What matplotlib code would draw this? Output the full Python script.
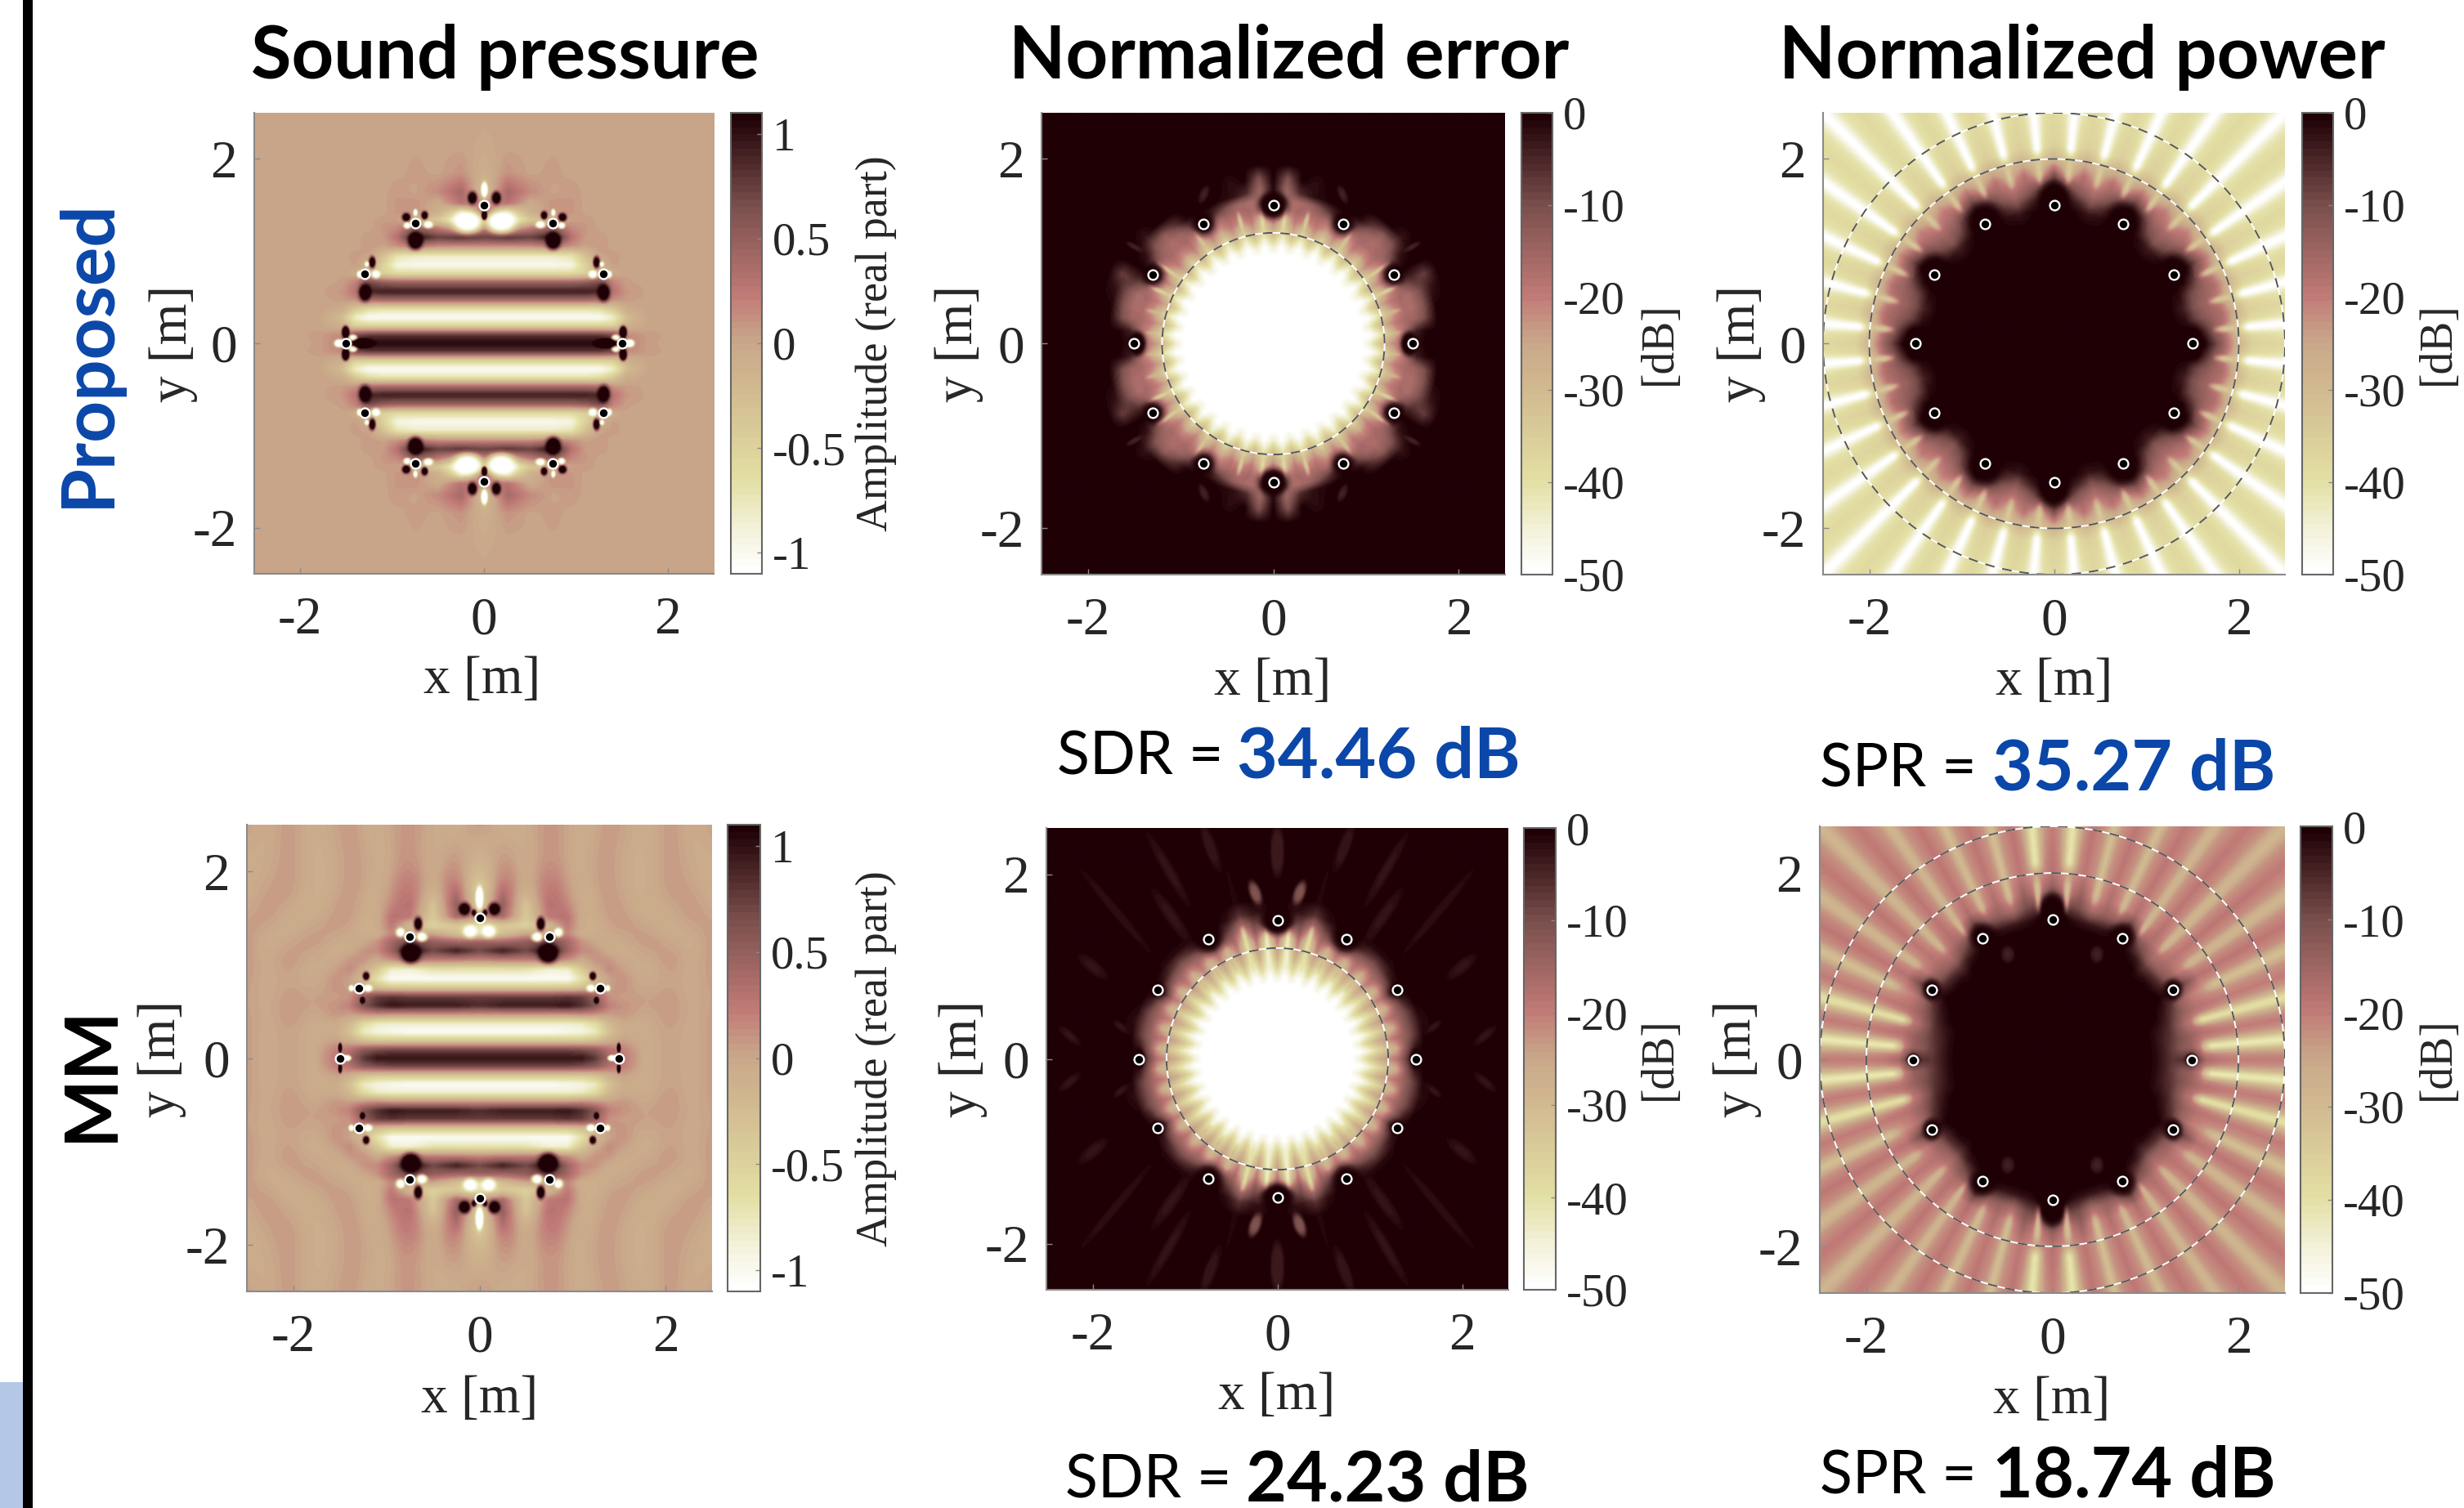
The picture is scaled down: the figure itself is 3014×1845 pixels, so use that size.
import numpy as np
import matplotlib
matplotlib.use("Agg")
import matplotlib.pyplot as plt
from matplotlib.colors import LinearSegmentedColormap, Normalize
from matplotlib.patches import Circle, Rectangle

W, H = 3014, 1845

# ---------- data ----------
titles = ["Sound pressure", "Normalized error", "Normalized power"]
row_names = ["Proposed", "MM"]
sdr_values = ["34.46 dB", "24.23 dB"]
spr_values = ["35.27 dB", "18.74 dB"]
speaker_angles = [0, 30, 60, 90, 120, 150, 180, 210, 240, 270, 300, 330]
speaker_radius = 1.5
amp_ticks = [-1, -0.5, 0, 0.5, 1]
db_ticks = [-50, -40, -30, -20, -10, 0]
pos_ticks = [-2, 0, 2]

# Pressure panels: upper right quadrant, rows = y, columns = x (mirrored)
p_y = [0, .09, .19, .28, .37, .47, .56, .66, .76, .85, .95, 1.05, 1.15, 1.25, 1.34, 1.42, 1.52, 1.65, 1.85, 2.1, 2.5]
p_x = [0, .25, .5, .75, .95, 1.1, 1.25, 1.4, 1.55, 1.8, 2.05, 2.3, 2.5]
sound_proposed = [
 [1.05,1.05,1.05,1.05,1.05,1.05,1.05,1.0,.2,.04,.02,.02,.02],
 [.8,.8,.8,.8,.8,.8,.8,.7,.15,.05,.02,.02,.02],
 [-.5,-.5,-.5,-.5,-.5,-.5,-.5,-.5,-.1,.02,.02,.02,.02],
 [-1.05,-1.05,-1.05,-1.05,-1.05,-1.05,-1.05,-.85,-.25,.03,.02,.02,.02],
 [-.7,-.7,-.7,-.7,-.7,-.7,-.65,-.4,-.05,.03,.02,.02,.02],
 [.4,.4,.4,.4,.4,.4,.35,.12,.05,.02,.02,.02,.02],
 [.95,.95,.95,.95,.95,.95,.9,.3,.08,.02,.02,.02,.02],
 [.5,.5,.5,.5,.5,.55,.7,.2,.04,.02,.02,.02,.02],
 [-.6,-.6,-.6,-.6,-.6,-.5,-.2,-.05,.03,.02,.02,.02,.02],
 [-1.0,-1.0,-1.0,-1.0,-.95,-.5,-.1,.04,.02,.02,.02,.02,.02],
 [-.8,-.8,-.8,-.8,-.7,-.3,.02,.05,.02,.02,.02,.02,.02],
 [.1,.1,.1,.2,.1,.02,.06,.02,.02,.02,.02,.02,.02],
 [.75,.85,.75,1.05,.3,.06,.06,.02,.02,.02,.02,.02,.02],
 [.25,-.15,.25,.5,.15,.08,.02,.02,.02,.02,.02,.02,.02],
 [-.1,-1.05,-.4,-.2,.04,.06,.02,.02,.02,.02,.02,.02,.02],
 [.5,-.7,-.1,.1,.08,.02,.02,.02,.02,.02,.02,.02,.02],
 [.1,.3,-.05,.1,.08,.02,.02,.02,.02,.02,.02,.02,.02],
 [-.3,.4,.15,.02,.06,.02,.02,.02,.02,.02,.02,.02,.02],
 [-.1,.1,.02,.05,.02,.02,.02,.02,.02,.02,.02,.02,.02],
 [-.03,.03,.02,.03,.02,.02,.02,.02,.02,.02,.02,.02,.02],
 [.02,.02,.02,.02,.02,.02,.02,.02,.02,.02,.02,.02,.02],
]
sound_mm = [
 [1.0,1.0,1.0,1.0,1.0,1.0,.8,.4,.25,-.08,.05,-.06,.08],
 [.7,.7,.7,.7,.7,.65,.55,.3,.2,-.08,.05,-.06,.08],
 [-.4,-.4,-.4,-.4,-.4,-.4,-.3,-.1,.03,-.08,.05,-.06,.08],
 [-1.05,-1.05,-1.05,-1.05,-1.0,-.95,-.8,-.3,-.05,-.08,.06,-.06,.08],
 [-.85,-.85,-.85,-.85,-.85,-.8,-.6,-.2,-.03,-.06,.08,-.05,.08],
 [.1,.1,.1,.1,.1,.15,.1,.05,.08,-.02,.1,-.05,.07],
 [.85,.95,.95,.95,1.0,.85,.6,.2,.1,.02,.1,-.04,.05],
 [.75,.75,.75,.75,.8,.75,.5,.1,.05,.05,.08,-.04,.05],
 [-.4,-.4,-.4,-.4,-.4,-.3,-.1,.05,.1,-.05,.05,-.05,.06],
 [-1.05,-1.05,-1.05,-1.05,-1.05,-.7,-.2,.02,.12,-.08,.05,-.06,.08],
 [-.7,-.7,-.7,-.9,-.85,-.4,-.05,.15,.05,-.1,.08,-.06,.1],
 [.15,.2,.2,.25,.1,-.05,.1,.1,-.05,-.08,.1,-.05,.1],
 [.7,.95,.7,1.1,.45,.15,.1,-.05,-.1,.05,.1,-.08,.08],
 [.45,.4,.5,.7,.4,.1,-.02,-.1,-.05,.1,-.02,-.1,.1],
 [-.7,-.3,-.05,-.1,.15,-.1,-.1,-.05,.05,.1,-.08,-.05,.1],
 [-.7,-.4,-.5,-.2,.25,-.08,-.12,.05,.1,-.02,-.1,.05,.05],
 [.1,.4,-.4,.25,.35,-.1,-.08,.1,.08,-.1,-.08,.1,.02],
 [-.5,.5,-.35,.35,.2,-.15,-.05,.12,.02,-.1,.02,.1,-.06],
 [-.6,.4,-.15,.35,.05,-.12,.02,.12,-.05,-.1,.1,.02,-.08],
 [-.25,.15,-.1,.15,0,-.1,.05,.1,-.05,-.1,.1,-.05,-.06],
 [.12,-.1,-.05,.12,.02,-.1,-.02,.1,.02,-.1,.1,-.08,.05],
]
# Pressure lobes around loudspeakers: x, y, half width, half height, value
lobes_proposed = [
 (.18,1.32,.16,.12,-1.2),(.13,1.58,.055,.075,1.25),(0,1.67,.035,.08,-1.2),(0,1.39,.03,.05,1.25),
 (.75,1.11,.085,.1,1.3),(.65,1.39,.04,.05,1.25),(.85,1.37,.05,.05,1.25),(.75,1.42,.025,.04,-1.2),(.61,1.29,.055,.04,-1.2),(.84,1.28,.04,.035,-1.2),
 (1.22,.88,.04,.07,1.25),(1.3,.55,.07,.1,1.25),(1.18,.75,.05,.045,-1.2),(1.36,.75,.03,.04,-1.2),(1.28,.86,.025,.03,-1.2),
 (1.52,.12,.035,.07,1.25),(1.5,-.12,.035,.07,1.25),(1.58,0,.05,.04,-1.2),(1.43,.06,.045,.035,-1.1),(1.32,0,.12,.05,1.2),
]
lobes_mm = [
 (.16,1.6,.07,.075,1.25),(0,1.72,.04,.12,-1.2),(.1,1.36,.08,.07,-1.15),(.06,1.56,.03,.04,1.1),
 (.74,1.12,.11,.11,1.3),(.66,1.44,.05,.08,1.25),(.62,1.3,.06,.05,-1.2),(.85,1.35,.05,.05,-1.2),
 (1.22,.88,.04,.05,1.25),(1.26,.62,.03,.04,1.25),(1.2,.75,.05,.04,-1.2),(1.38,.75,.03,.035,-1.2),
 (1.5,.11,.02,.05,1.25),(1.5,-.11,.02,.05,1.25),(1.43,0,.045,.03,-1.2),
]

# dB panels: polar tables, rows = radius, columns = angle 0..90 degrees every 5 degrees (mirrored)
angles = [0,5,10,15,20,25,30,35,40,45,50,55,60,65,70,75,80,85,90]
err_r_proposed = [0,.95,1.05,1.15,1.25,1.35,1.45,1.55,1.65,1.8,1.95,3.7]
err_proposed = [
 [-50]*19,
 [-50]*19,
 [-44,-50,-44,-50,-44,-50,-44,-50,-44,-50,-44,-50,-44,-50,-44,-50,-44,-50,-44],
 [-33,-44,-33,-44,-33,-44,-33,-44,-33,-44,-33,-44,-33,-44,-33,-44,-33,-44,-33],
 [-24,-34,-24,-34,-24,-34,-24,-34,-24,-34,-24,-34,-24,-34,-24,-34,-24,-36,-24],
 [-19,-23,-19,-23,-19,-24,-19,-26,-19,-23,-19,-26,-19,-24,-19,-23,-19,-30,-19],
 [-15,-17,-16,-17,-16,-18,-15,-19,-16,-17,-16,-19,-15,-18,-16,-17,-16,-22,-15],
 [-2,-4,-15,-17,-17,-10,-2,-10,-15,-17,-15,-8,-2,-5,-10,-15,-17,-18,-3],
 [0,-1,-11,-13,-12,-6,0,-3,-12,-14,-8,-1,0,0,-1,-2,-6,-16,-1],
 [0,0,0,-1,-3,-8,0,0,-3,0,0,0,0,0,0,-2,0,-11,0],
 [0]*19,
 [0]*19,
]
err_r_mm = [0,.8,.9,1.0,1.1,1.2,1.3,1.4,1.5,1.6,1.75,3.7]
err_mm = [
 [-50]*19,
 [-50]*19,
 [-44,-50,-44,-50,-44,-50,-44,-50,-44,-50,-44,-50,-44,-50,-44,-50,-44,-50,-44],
 [-35,-45,-35,-45,-35,-45,-35,-45,-35,-45,-35,-45,-35,-45,-35,-47,-35,-47,-35],
 [-27,-38,-27,-38,-27,-38,-27,-38,-27,-38,-27,-38,-27,-38,-27,-42,-27,-46,-27],
 [-22,-32,-22,-32,-22,-32,-22,-32,-22,-32,-22,-32,-22,-32,-22,-38,-22,-44,-22],
 [-18,-26,-18,-26,-18,-26,-18,-26,-18,-26,-18,-26,-18,-26,-18,-36,-18,-38,-18],
 [-8,-12,-14,-14,-14,-13,-5,-12,-14,-15,-14,-12,-6,-10,-14,-26,-12,-22,-8],
 [0,-3,-8,-8,-8,-4,0,-3,-6,-8,-6,-3,0,-2,-8,-16,-8,-10,-1],
 [0,0,-1,-2,-1,0,0,0,-1,-1,-1,0,0,0,-2,-7,-3,-2,0],
 [0,0,0,0,0,0,0,0,0,0,0,0,0,0,0,-1,0,0,0],
 [0]*19,
]
pow_r_proposed = [0,1.3,1.45,1.55,1.65,1.75,1.85,2.0,2.15,2.5,3.7]
pow_proposed = [
 [0]*19,
 [0]*19,
 [0,0,-2,-4,-2,0,0,0,-2,-4,-2,0,0,0,-2,-3,-1,0,0],
 [0,-1,-8,-10,-8,-1,0,-1,-8,-12,-8,-1,0,-1,-6,-10,-5,-1,0],
 [-1,-6,-12,-14,-12,-6,-1,-6,-13,-15,-13,-5,-1,-5,-12,-16,-12,-5,-1],
 [-8,-13,-15,-16,-15,-14,-8,-13,-17,-18,-17,-13,-8,-13,-16,-20,-16,-14,-6],
 [-15,-18,-17,-20,-17,-20,-16,-22,-19,-24,-19,-22,-16,-24,-18,-26,-18,-28,-12],
 [-28,-33,-28,-33,-28,-33,-28,-33,-28,-33,-28,-33,-28,-33,-28,-33,-28,-34,-28],
 [-36,-39,-36,-39,-36,-39,-36,-39,-36,-39,-36,-39,-36,-39,-36,-39,-36,-39,-36],
 [-38,-42,-38,-42,-38,-42,-38,-42,-38,-42,-38,-42,-38,-42,-38,-42,-38,-42,-38],
 [-39,-42,-39,-42,-39,-42,-39,-42,-39,-42,-39,-42,-39,-42,-39,-42,-39,-42,-39],
]
pow_r_mm = [0,1.0,1.1,1.2,1.3,1.4,1.5,1.65,1.8,2.0,2.5,3.7]
pow_mm = [
 [0]*19,
 [0]*19,
 [-1,-1,-1,-1,0,0,0,0,0,0,0,0,0,0,0,0,0,0,0],
 [-4,-4,-4,-3,-1,0,0,0,0,0,0,0,0,0,0,0,0,0,0],
 [-7,-8,-7,-6,-4,-2,0,-1,-1,-2,0,0,0,0,0,0,0,0,0],
 [-6,-12,-11,-12,-9,-6,-2,-5,-6,-7,-3,-1,0,0,0,0,0,0,0],
 [-1,-14,-14,-18,-14,-14,-3,-12,-14,-15,-10,-6,-1,-2,-3,-3,-2,0,0],
 [-16,-24,-18,-22,-18,-20,-10,-20,-18,-21,-17,-18,-6,-14,-14,-17,-10,-8,-1],
 [-19,-25,-19,-25,-19,-24,-18,-24,-19,-24,-18,-24,-17,-24,-17,-24,-14,-20,-12],
 [-20,-26,-20,-26,-20,-25,-19,-25,-19,-25,-19,-25,-19,-25,-19,-25,-19,-24,-18],
 [-20,-27,-20,-27,-20,-25,-19,-25,-19,-25,-19,-25,-19,-25,-19,-25,-19,-27,-20],
 [-20,-27,-20,-27,-20,-25,-20,-25,-20,-25,-20,-25,-20,-25,-20,-25,-20,-28,-20],
]
# Dark spots and faint eyes: x, y, half width, half height, value, [tilt of the width axis]
spots_err_proposed = [(0,1.5,.16,.14,0),(.75,1.3,.13,.13,0),(1.3,.75,.13,.13,0),(1.47,0,.09,.13,0),(.75,1.62,.1,.045,-4,115),(1.5,1.05,.1,.03,-4,30)]
spots_pow_proposed = [(0,1.55,.15,.2,0),(.75,1.35,.17,.17,0),(1.3,.8,.15,.15,0),(1.5,0,.12,.17,0)]
spots_err_mm = [(0,1.5,.17,.14,0),(.75,1.3,.15,.15,0),(1.3,.75,.08,.08,0),(1.5,0,.06,.1,0),(.24,1.8,.13,.06,-11,70),
                (0,2.25,.25,.07,-3.5,90),(.73,2.3,.25,.06,-3,70),(1.18,2.05,.45,.06,-2.5,60),(1.75,1.6,.6,.05,-2,50),
                (2.0,1.0,.2,.07,-2.5,40),(2.25,.25,.15,.05,-2.5,40),(1.15,1.55,.35,.07,-2.5,55),(1.7,.35,.1,.04,-2.5,40)]
spots_pow_mm = [(0,1.58,.14,.2,0),(.75,1.32,.15,.14,0),(1.3,.75,.1,.12,0),(1.5,0,.06,.06,0),(.48,1.13,.07,.09,-4)]
# Thin rays: angle (deg), start radius, end radius, value, half width (deg)
rays_err_proposed = [(85,1.2,1.55,-40,1.0),(75,1.2,1.5,-36,.8),(25,1.2,1.5,-38,.8),(35,1.2,1.55,-36,.8),(5,1.2,1.4,-32,.8),(15,1.2,1.45,-30,.8),(55,1.2,1.5,-34,.8)]
rays_err_mm = [(85,.9,1.45,-44,1.0),(75,.9,1.5,-40,.9),(65,1.0,1.35,-30,.9),(55,1.0,1.3,-30,.9),(45,1.0,1.3,-30,.9)]
rays_pow_proposed = [(a,1.72,2.05,-34,1.0) for a in angles[1::2]] + [(a,2.0,3.8,-50,1.5) for a in angles[1::2]]
rays_pow_mm = [(5,1.6,3.8,-42,1.7),(15,1.55,3.8,-40,1.6),(25,1.8,3.8,-31,1.3),(35,1.7,3.8,-29,1.2),(45,1.6,3.8,-29,1.2),
               (55,1.6,3.8,-29,1),(65,1.7,3.8,-30,1),(75,1.7,3.8,-31,1),(85,1.55,2.0,-32,1),(85,2.0,3.8,-41,1.6)]

cmap_pos = [0, .1, .2, .4, .5, .6, .8, 1]
cmap_col = ["#ffffff", "#f2f0d6", "#e3dfa3", "#d1b990", "#c9a88a", "#c27c78", "#7b504d", "#1e0005"]

# ---------- helpers ----------
plt.rcParams["font.family"] = "Liberation Serif"
cmap = LinearSegmentedColormap.from_list("pinkish", list(zip(cmap_pos, cmap_col)), N=64)
fig = plt.figure(figsize=(W / 100, H / 100), dpi=100)

N = 560
axis_vals = np.linspace(-2.5, 2.5, N)
X, Y = np.meshgrid(axis_vals, axis_vals)
R = np.hypot(X, Y)
TH = np.degrees(np.arctan2(np.abs(Y), np.abs(X)))

def bilinear(table, rows, cols, rr, cc):
    t = np.asarray(table, float)
    i = np.interp(rr, rows, np.arange(len(rows)))
    j = np.interp(cc, cols, np.arange(len(cols)))
    i0 = np.clip(np.floor(i).astype(int), 0, len(rows) - 2)
    j0 = np.clip(np.floor(j).astype(int), 0, len(cols) - 2)
    a, b = i - i0, j - j0
    return (t[i0, j0] * (1 - a) * (1 - b) + t[i0 + 1, j0] * a * (1 - b)
            + t[i0, j0 + 1] * (1 - a) * b + t[i0 + 1, j0 + 1] * a * b)

def smooth(f, k):
    kern = np.ones(k) / k
    g = np.pad(f, k, mode="edge")
    g = np.apply_along_axis(lambda v: np.convolve(v, kern, mode="same"), 0, g)
    g = np.apply_along_axis(lambda v: np.convolve(v, kern, mode="same"), 1, g)
    return g[k:-k, k:-k]

def add_blobs(f, blobs):
    for b in blobs:
        x0, y0, rx, ry, val = b[:5]
        tilt = np.radians(b[5]) if len(b) > 5 else 0.0
        for sx in (1, -1):
            for sy in (1, -1):
                u = (X - sx * x0) * sx
                v = (Y - sy * y0) * sy
                p = u * np.cos(tilt) + v * np.sin(tilt)
                q = -u * np.sin(tilt) + v * np.cos(tilt)
                w = np.exp(-((p / rx) ** 2 + (q / ry) ** 2) ** 2)
                f = f * (1 - w) + val * w
    return f

def add_rays(f, rays):
    for a, r0, r1, val, wd in rays:
        w = np.exp(-((TH - a) / wd) ** 2) * np.clip((R - r0) / .12, 0, 1) * np.clip((r1 - R) / .12, 0, 1)
        f = f * (1 - w) + val * w
    return f

def cart_field(table, blobs, outer_k):
    f = bilinear(table, p_y, p_x, np.abs(Y), np.abs(X))
    s = smooth(f, 5)
    if outer_k:
        o = smooth(f, outer_k)
        m = np.clip((R - 1.7) / .25, 0, 1)
        s = s * (1 - m) + o * m
    return add_blobs(s, blobs)

def polar_field(table, radii, blobs, rays):
    f = bilinear(table, radii, angles, R, TH)
    f = add_rays(f, rays)
    f = smooth(f, 3)
    return add_blobs(f, blobs)

def px_axes(x0, x1, y0, y1):
    return fig.add_axes([x0 / W, 1 - y1 / H, (x1 - x0) / W, (y1 - y0) / H])

def ftext(x, y, s, **kw):
    fig.text(x / W, 1 - y / H, s, **kw)

TICK = "#262626"
EDGE = "#8a8a8a"

def panel(box, cbox, field, lim, cticks, label, circles, xlab, ylab, lab_x, fs=47, cfs=41):
    ax = px_axes(*box)
    im = ax.imshow(field, origin="lower", extent=[-2.5, 2.5, -2.5, 2.5], cmap=cmap,
                   norm=Normalize(*lim), aspect="auto", interpolation="bilinear")
    for r in circles:
        ax.add_patch(Circle((0, 0), r, fill=False, ec="white", lw=1.4))
        ax.add_patch(Circle((0, 0), r, fill=False, ec="#555555", lw=1.4, ls=(0, (6, 5))))
    sx = [speaker_radius * np.cos(np.radians(a)) for a in speaker_angles]
    sy = [speaker_radius * np.sin(np.radians(a)) for a in speaker_angles]
    ax.scatter(sx, sy, s=72, c="black", edgecolors="white", linewidths=1.7, zorder=5)
    ax.set_xlim(-2.5, 2.5)
    ax.set_ylim(-2.5, 2.5)
    ax.set_xticks(pos_ticks, [str(t) for t in pos_ticks])
    ax.set_yticks(pos_ticks, [str(t) for t in pos_ticks])
    ax.tick_params(direction="in", length=5, width=1, color=EDGE, labelsize=fs, labelcolor=TICK)
    ax.tick_params(axis="x", pad=20)
    ax.tick_params(axis="y", pad=15)
    for s in ("top", "right"):
        ax.spines[s].set_visible(False)
    for s in ("left", "bottom"):
        ax.spines[s].set_color(EDGE)
        ax.spines[s].set_linewidth(1.5)
    cax = px_axes(*cbox)
    cb = fig.colorbar(im, cax=cax)
    cb.set_ticks(cticks)
    cb.set_ticklabels([str(t) for t in cticks])
    cax.tick_params(direction="in", length=4, width=1, color=EDGE, labelsize=cfs,
                    labelcolor=TICK, pad=9)
    cb.outline.set_edgecolor("#666666")
    cb.outline.set_linewidth(1.5)
    ftext(xlab[0], xlab[1], "x [m]", fontsize=fs, color=TICK, ha="center", va="center")
    ftext(ylab[0], ylab[1], "y [m]", fontsize=fs, color=TICK, ha="center", va="center", rotation=90)
    ftext(lab_x[0], lab_x[1], label, fontsize=lab_x[2], color=TICK, ha="center", va="center", rotation=90)

# ---------- panels ----------
amp = (-1.1, 1.1)
db = (-50, 0)
panel((311, 873, 138, 702), (894, 932, 138, 702), cart_field(sound_proposed, lobes_proposed, 0), amp,
      amp_ticks, "Amplitude (real part)", [], (590, 832), (212, 420), (1072, 420, 39))
panel((1274, 1841, 138, 703), (1861, 1899, 138, 703), polar_field(err_proposed, err_r_proposed, spots_err_proposed, rays_err_proposed), db,
      db_ticks, "[dB]", [1.2], (1557, 834), (1173, 420), (2030, 420, 40))
panel((2230, 2795, 138, 703), (2816, 2854, 138, 703), polar_field(pow_proposed, pow_r_proposed, spots_pow_proposed, rays_pow_proposed), db,
      db_ticks, "[dB]", [2.0, 2.5], (2513, 834), (2130, 420), (2982, 420, 40))
panel((302, 871, 1009, 1580), (890, 930, 1009, 1580), cart_field(sound_mm, lobes_mm, 31), amp,
      amp_ticks, "Amplitude (real part)", [], (587, 1712), (198, 1295), (1072, 1295, 39))
panel((1280, 1845, 1013, 1578), (1864, 1903, 1013, 1578), polar_field(err_mm, err_r_mm, spots_err_mm, rays_err_mm), db,
      db_ticks, "[dB]", [1.2], (1562, 1708), (1178, 1295), (2030, 1295, 40))
panel((2226, 2795, 1011, 1582), (2814, 2853, 1011, 1582), polar_field(pow_mm, pow_r_mm, spots_pow_mm, rays_pow_mm), db,
      db_ticks, "[dB]", [2.0, 2.5], (2510, 1713), (2125, 1295), (2982, 1295, 40))

# ---------- titles, row names, summary text ----------
LATO = "Lato"
BLUE = "#0a47a9"
for cx, t in zip([618, 1577, 2547], titles):
    ftext(cx, 70, t, fontsize=65, fontweight="bold", family=LATO, color="black", ha="center", va="center")
ftext(108, 432, row_names[0], fontsize=64, fontweight="bold", family=LATO, color=BLUE, ha="center", va="center", rotation=90)
ftext(112, 1313, row_names[1], fontsize=64, fontweight="bold", family=LATO, color="black", ha="center", va="center", rotation=90)

def summary(x_lab, x_val, y, lab, val, col):
    ftext(x_lab, y, lab, fontsize=53, family=LATO, color="black", ha="left", va="center")
    ftext(x_val, y, val, fontsize=62, fontweight="bold", family=LATO, color=col, ha="left", va="center")

summary(1293, 1513, 927, "SDR =", sdr_values[0], BLUE)
summary(2226, 2437, 942, "SPR =", spr_values[0], BLUE)
summary(1303, 1524, 1812, "SDR =", sdr_values[1], "black")
summary(2226, 2437, 1807, "SPR =", spr_values[1], "black")

# ---------- slide furniture ----------
fig.add_artist(Rectangle((28 / W, 0), 12 / W, 1, transform=fig.transFigure, color="black", lw=0))
fig.add_artist(Rectangle((0, 0), 28 / W, (H - 1691) / H, transform=fig.transFigure, color="#b4c7e7", lw=0))

fig.savefig("out.png", dpi=100)
